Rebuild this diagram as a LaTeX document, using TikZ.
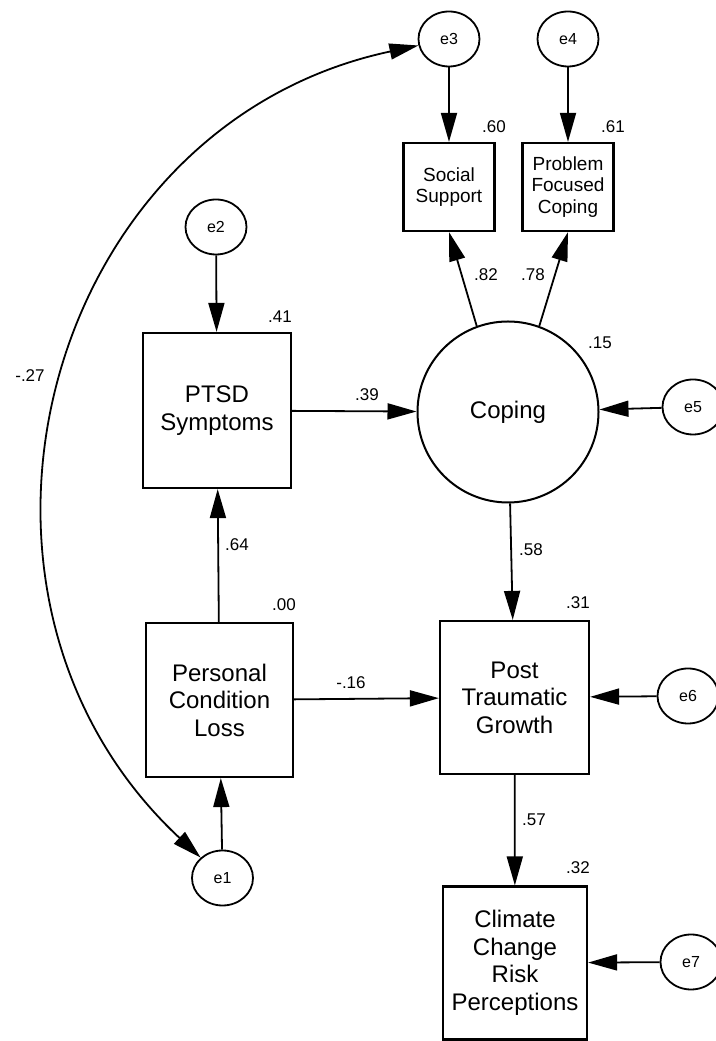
\documentclass[tikz,border=0pt]{standalone}
\usepackage{fontspec}
\setmainfont{Liberation Sans}
\usetikzlibrary{arrows.meta,shapes.geometric}
\begin{document}
\begin{tikzpicture}[x=1pt,y=1pt,>={Triangle[length=29pt,width=16pt]},
    var/.style={draw,line width=2.2pt,inner sep=0pt,align=center,font=\fontsize{24}{27.5}\selectfont},
    ind/.style={draw,line width=2.2pt,inner sep=0pt,align=center,font=\fontsize{19}{21.7}\selectfont,minimum width=91pt,minimum height=88pt},
    err/.style={draw,ellipse,line width=1.8pt,minimum width=61pt,minimum height=55pt,inner sep=0pt,font=\fontsize{16}{16}\selectfont},
    coef/.style={inner sep=0pt,font=\fontsize{17}{17}\selectfont},
    path/.style={->,line width=1.8pt}]
        \useasboundingbox (0,0) rectangle (715,1041);
        % measured variables
        \node[var,minimum width=148pt,minimum height=155pt] (PTSD) at (217,630.5) {PTSD\\Symptoms};
        \node[var,minimum width=147pt,minimum height=154pt] (PLC) at (219.5,341) {Personal\\Condition\\Loss};
        \node[var,minimum width=149pt,minimum height=153pt] (PTG) at (514.5,343.5) {Post\\Traumatic\\Growth};
        \node[var,minimum width=144pt,minimum height=153pt] (CCRP) at (515,78) {Climate\\Change\\Risk\\Perceptions};
        \node[ind] (SS) at (449,854) {Social\\Support};
        \node[ind] (PFC) at (568,854) {Problem\\Focused\\Coping};
        % latent variable
        \node[draw,circle,line width=2pt,minimum size=181pt,inner sep=0pt,font=\fontsize{24}{24}\selectfont] (Coping) at (508,629) {Coping};
        % errors
        \foreach \n/\x/\y in {e1/222.5/163,e2/216/814,e3/449/1002,e4/568/1002,e5/693/634,e6/688/345,e7/691/79}
          \node[err] (\n) at (\x,\y) {\n};
        % paths
        \draw[path] (e3) -- (SS);
        \draw[path] (e4) -- (PFC);
        \draw[path] (e2) -- (PTSD);
        \draw[path] (PLC) -- (PTSD);
        \draw[path] (PTSD) -- (Coping);
        \draw[path] (e5) -- (Coping);
        \draw[path] (Coping.110) -- (SS.south);
        \draw[path] (Coping.70) -- (PFC.south);
        \draw[path] (Coping) -- (PTG);
        \draw[path] (PLC) -- (PTG);
        \draw[path] (e6) -- (PTG);
        \draw[path] (PTG) -- (CCRP);
        \draw[path] (e7) -- (CCRP);
        \draw[path] (e1) -- (PLC);
        % covariance
        \draw[<->,line width=1.8pt] (e1) to[out=137,in=192,looseness=1.17] (e3);
        % estimates
        \foreach \n/\x/\y/\t in {r60/494/914/.60,r61/613/914/.61,r41/280/724/.41,r15/600/698/.15,
                                 r00/284/436/.00,r31/578/438/.31,r32/578/173/.32,
                                 b39/367/646/.39,b64/237/496/.64,b82/486/766/.82,b78/533/766/.78,
                                 b58/531/491/.58,b16/351/358/-.16,b57/534/221/.57,c27/30/665/-.27}
          \node[coef] (\n) at (\x,\y) {\t};
\end{tikzpicture}
\end{document}
